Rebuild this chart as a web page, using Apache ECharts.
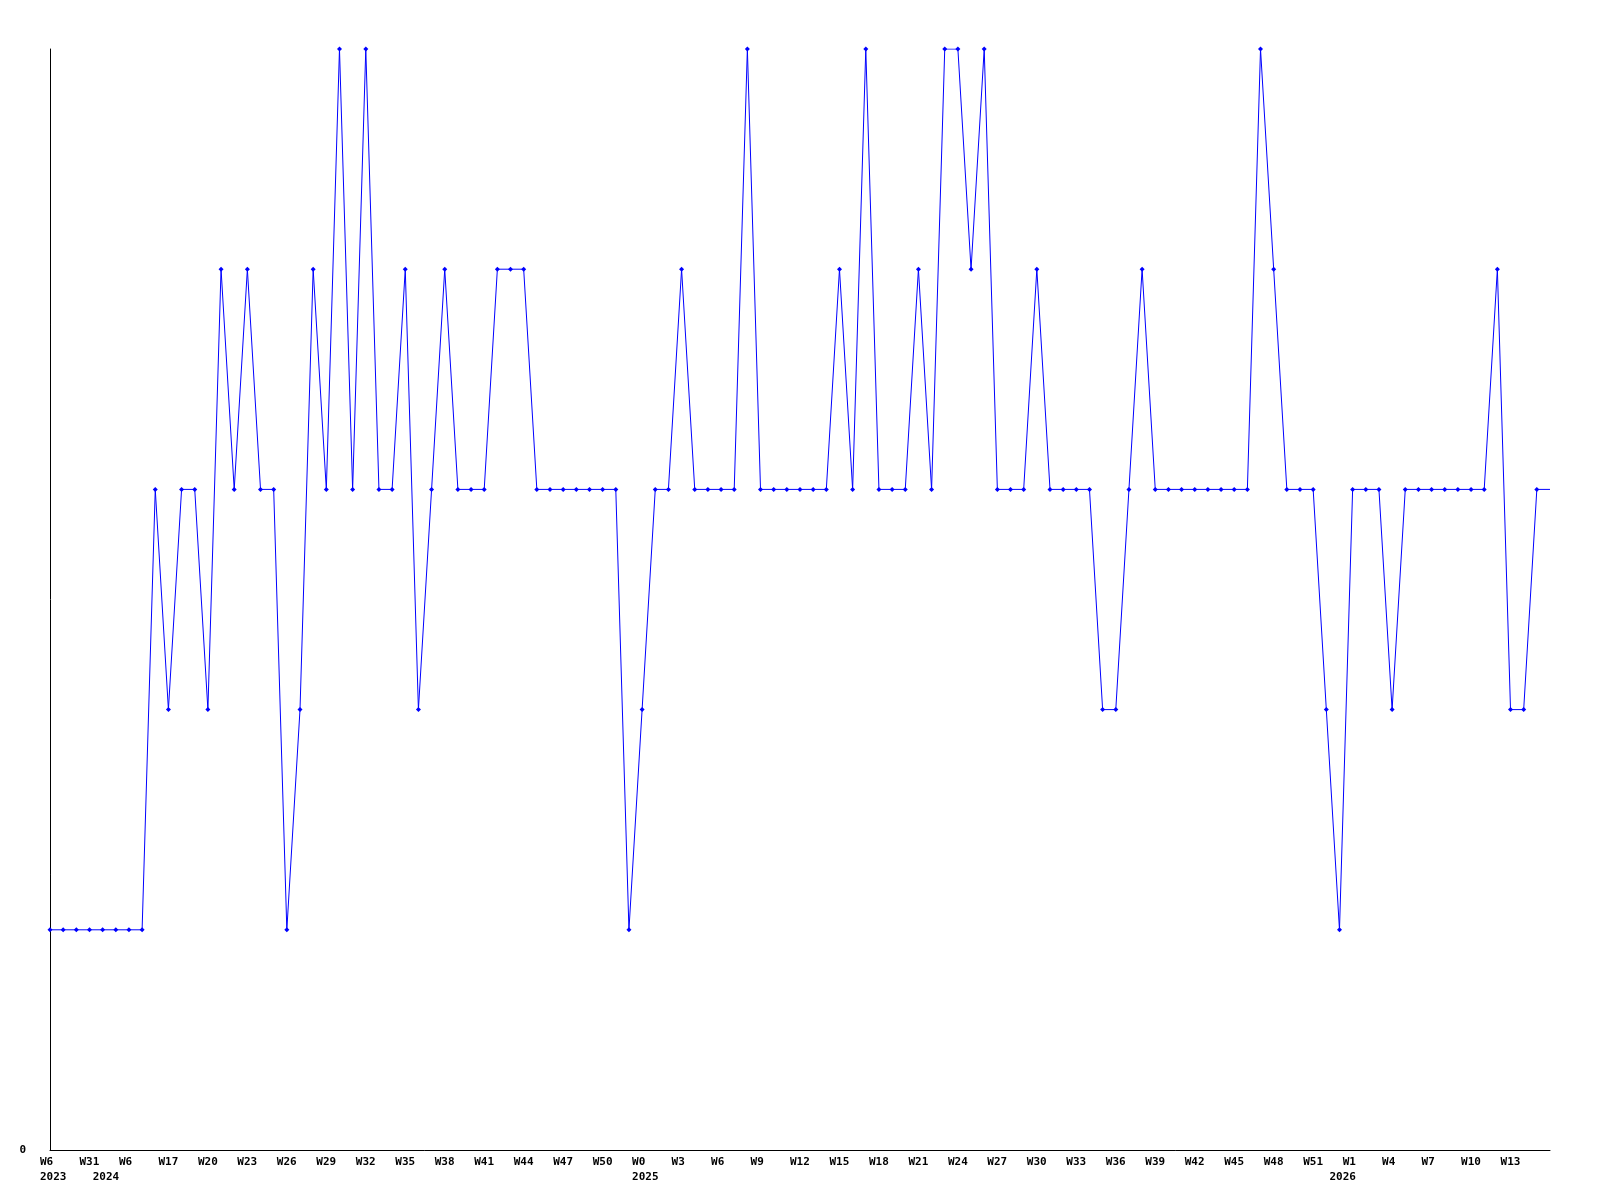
<!DOCTYPE html>
<html><head><meta charset="utf-8">
<script src="https://cdn.jsdelivr.net/npm/echarts@6/dist/echarts.min.js"></script>
<style>html,body{margin:0;padding:0;background:#fff}#c{width:1600px;height:1200px}</style>
</head><body><div id="c"></div>
<script>
// Week categories (year-week)
const weeks = (function(){
  const w = ["2023-W6","2023-W12","2023-W23","2023-W31","2024-W1","2024-W3","2024-W6","2024-W9","2024-W14"];
  for (let i = 17; i <= 52; i++) w.push("2024-W" + i);
  for (let i = 0; i <= 52; i++) w.push("2025-W" + i);
  for (let i = 0; i <= 16; i++) w.push("2026-W" + i);
  return w;
})();
const values = [1,1,1,1,1,1,1,1,
  3,2,3,3,2,4,3,4,3,3,
  1,2,4,3,5,3,5,3,3,4,
  2,3,4,3,3,3,4,4,4,3,
  3,3,3,3,3,3,1,2,3,3,
  4,3,3,3,3,5,3,3,3,3,
  3,3,4,3,5,3,3,3,4,3,
  5,5,4,5,3,3,3,4,3,3,
  3,3,2,2,3,4,3,3,3,3,
  3,3,3,3,5,4,3,3,3,2,
  1,3,3,3,2,3,3,3,3,3,
  3,3,4,2,2,3,3];
const yTickLabels = ["0"];

const font = "'DejaVu Sans Mono', monospace";
const seriesData = values.map((v, i) => i === values.length - 1 ? {value: v, symbol: 'none'} : v);

const chart = echarts.init(document.getElementById('c'), null, {renderer: 'canvas'});
chart.setOption({
  animation: false,
  backgroundColor: '#fff',
  grid: [
    {left: 50, right: 50, top: 49, bottom: 50},
    {left: 40, right: 60, top: 49, bottom: 50}
  ],
  xAxis: [
    {type: 'category', gridIndex: 0, data: weeks, boundaryGap: false,
     axisLine: {lineStyle: {color: '#000', width: 1}}, axisTick: {show: false},
     axisLabel: {show: false}, splitLine: {show: false}},
    {type: 'category', gridIndex: 1, data: weeks, boundaryGap: false,
     axisLine: {show: false}, axisTick: {show: false}, splitLine: {show: false},
     axisLabel: {interval: (i) => i % 3 === 0 && i < weeks.length - 1, align: 'left', margin: 7,
       fontFamily: font, fontWeight: 'bold', fontSize: 11, color: '#000',
       formatter: (v) => v.split('-')[1]}},
    {type: 'category', gridIndex: 1, data: weeks, boundaryGap: false, position: 'bottom', offset: 15,
     axisLine: {show: false}, axisTick: {show: false}, splitLine: {show: false},
     axisLabel: {interval: (i) => i === 0 || weeks[i].split('-')[0] !== weeks[i-1].split('-')[0],
       align: 'left', margin: 7,
       fontFamily: font, fontWeight: 'bold', fontSize: 11, color: '#000',
       formatter: (v) => v.split('-')[0]}}
  ],
  yAxis: [
    {type: 'value', gridIndex: 0, min: 0, max: 5, interval: 5,
     axisLine: {show: true, lineStyle: {color: '#000', width: 1}}, axisTick: {show: false},
     splitLine: {show: false},
     axisLabel: {margin: 24, fontFamily: font, fontWeight: 'bold', fontSize: 11, color: '#000',
       formatter: (v) => v === 0 ? yTickLabels[0] : ''}},
    {type: 'value', gridIndex: 1, min: 0, max: 5, show: false}
  ],
  series: [{
    type: 'line', xAxisIndex: 0, yAxisIndex: 0, data: seriesData,
    symbol: 'diamond', symbolSize: 5, showAllSymbol: true,
    lineStyle: {color: '#0000ff', width: 1},
    itemStyle: {color: '#0000ff'}
  }]
});
</script></body></html>
